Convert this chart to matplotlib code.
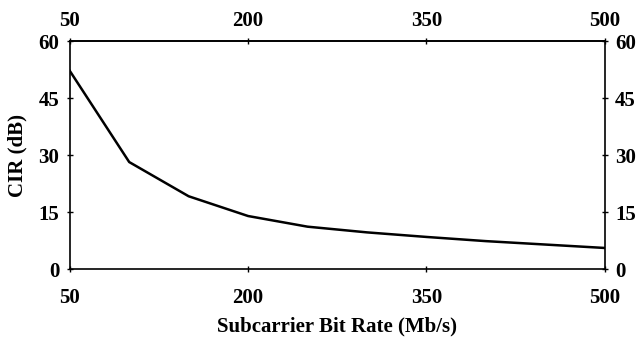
import matplotlib
matplotlib.use("Agg")
import matplotlib.pyplot as plt

bit_rate = [50, 100, 150, 200, 250, 300, 350, 400, 450, 500]
cir_db = [52.2, 28.2, 19.2, 14.0, 11.2, 9.7, 8.5, 7.4, 6.5, 5.6]
x_ticks = [50, 200, 350, 500]
y_ticks = [0, 15, 30, 45, 60]

plt.rcParams['font.family'] = 'Liberation Serif'
plt.rcParams['font.weight'] = 'bold'
plt.rcParams['font.size'] = 15

fig, ax = plt.subplots(figsize=(6.4, 3.43), dpi=100)
fig.subplots_adjust(left=0.109, right=0.945, bottom=0.215, top=0.88)

ax.plot(bit_rate, cir_db, color='black', linewidth=1.8)
ax.set_xlim(50, 500)
ax.set_ylim(0, 60)
ax.set_xticks(x_ticks)
ax.set_yticks(y_ticks)
ax.tick_params(direction='inout', length=5, width=1, right=True,
               labelright=True, pad=5)
ax.tick_params(axis='x', pad=11)
for s in ax.spines.values():
    s.set_linewidth(1.2)

# top axis repeats the bottom ticks
top = ax.secondary_xaxis('top')
top.set_xticks(x_ticks)
top.tick_params(direction='inout', length=5, width=1, pad=5)
top.spines['top'].set_linewidth(1.2)

ax.set_xlabel('Subcarrier Bit Rate (Mb/s)', fontweight='bold', labelpad=6)
ax.set_ylabel('CIR (dB)', fontweight='bold', labelpad=8)

fig.savefig('out.png')
